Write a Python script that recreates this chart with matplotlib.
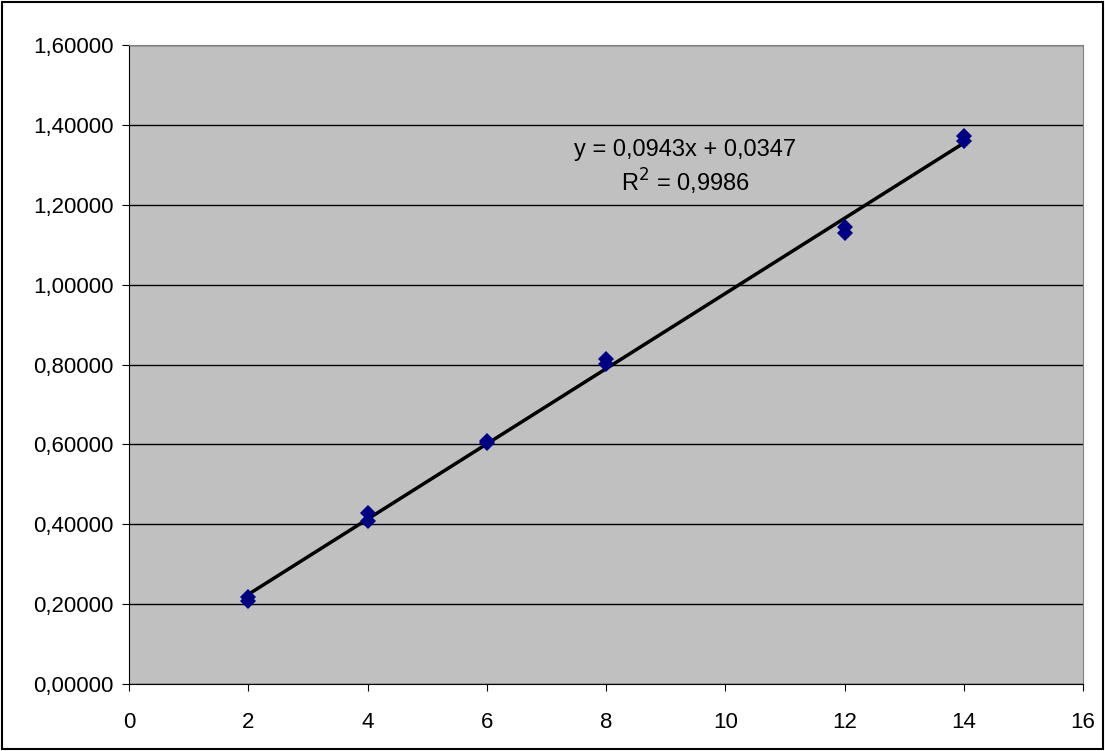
import numpy as np
import matplotlib.pyplot as plt
from matplotlib.ticker import FuncFormatter

plt.rcParams['font.family'] = ['Liberation Sans', 'DejaVu Sans']

# concentration vs absorbance, two readings per level
x = [2, 2, 4, 4, 6, 6, 8, 8, 12, 12, 14, 14]
y = [0.218, 0.207, 0.428, 0.407, 0.608, 0.604, 0.814, 0.802, 1.145, 1.130, 1.373, 1.360]

eq_text = "y = 0,0943x + 0,0347"
r2_text = "R$^2$ = 0,9986"

fig = plt.figure(figsize=(11.05, 7.51), dpi=100)
ax = fig.add_axes([129/1105, 1 - 684/751, (1083 - 129)/1105, (684 - 45)/751])
ax.set_facecolor('#C0C0C0')

# linear trendline
k, b = np.polyfit(x, y, 1)
xl = np.array([min(x), max(x)])
ax.plot(xl, k*xl + b, color='black', lw=2.5, zorder=3)
ax.plot(x, y, 'D', color='#000080', markersize=8, zorder=4, markeredgewidth=0)

ax.set_xlim(0, 16)
ax.set_ylim(0, 1.6)
ax.set_xticks(range(0, 17, 2))
ax.set_yticks(np.arange(0, 1.61, 0.2))
ax.yaxis.set_major_formatter(FuncFormatter(lambda v, p: f"{v:.5f}".replace('.', ',')))
ax.grid(axis='y', color='black', lw=1)
ax.set_axisbelow(True)
ax.tick_params(direction='out', length=5, labelsize=16, colors='black', pad=6)
ax.tick_params(axis='x', pad=15)
for s in ['top', 'right']:
    ax.spines[s].set_color('#808080')
for s in ['left', 'bottom']:
    ax.spines[s].set_color('black')

ax.text(9.33, 1.337, eq_text, ha='center', va='center', fontsize=17)
ax.text(9.33, 1.257, r2_text, ha='center', va='center', fontsize=17)

# outer border of the chart area
fig.patches.append(plt.Rectangle((0.002, 0.003), 0.996, 0.994, transform=fig.transFigure,
                                 fill=False, edgecolor='black', lw=1.5))

fig.savefig('out.png', dpi=100)
